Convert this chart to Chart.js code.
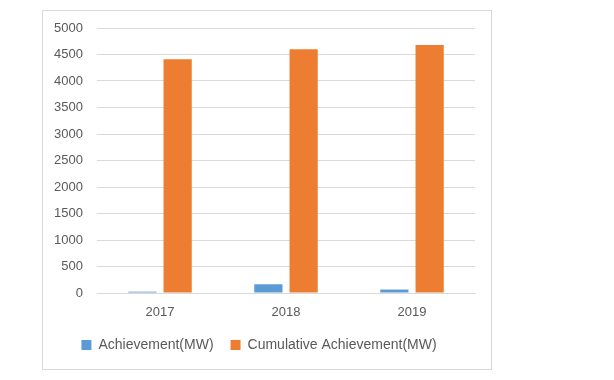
<!DOCTYPE html>
<html>
<head>
<meta charset="utf-8">
<script src="https://cdn.jsdelivr.net/npm/chart.js@4"></script>
<style>
  body { margin: 0; background: #fff; width: 614px; height: 380px; position: relative; }
  #box { position: absolute; left: 42px; top: 10px; width: 448px; height: 358px; border: 1px solid #d9d9d9; }
</style>
</head>
<body>
<div id="box"><canvas id="mychart" width="448" height="358"></canvas></div>
<script>
// data
const years = ['2017', '2018', '2019'];
const achievement = [25, 165, 65];
const cumulative = [4410, 4600, 4680];
const yTicks = [0, 500, 1000, 1500, 2000, 2500, 3000, 3500, 4000, 4500, 5000];

const textColor = '#595959';
const font = { family: 'Liberation Sans', size: 13 };

let ctx = document.getElementById('mychart').getContext('2d');

let barChart = new Chart(ctx, {
    type: 'bar',
    data: {
        labels: years,
        datasets: [{
            label: 'Achievement(MW)',
            data: achievement,
            backgroundColor: '#5B9BD5',
        }, {
            label: 'Cumulative Achievement(MW)',
            data: cumulative,
            backgroundColor: '#ED7D31',
        }]
    },
    options: {
        responsive: false,
        animation: false,
        categoryPercentage: 0.56,
        barPercentage: 0.8,
        layout: { padding: { top: 17, right: 16, bottom: 7, left: 0 } },
        plugins: {
            tooltip: { enabled: false },
            legend: {
                position: 'bottom',
                labels: {
                    boxWidth: 10,
                    boxHeight: 10,
                    padding: 17,
                    color: textColor,
                    font: { family: 'Liberation Sans', size: 14 }
                }
            }
        },
        scales: {
            x: {
                afterFit: function(scale) { scale.height = 28; },
                grid: { display: false, drawTicks: false },
                border: { color: '#d9d9d9' },
                ticks: { color: textColor, font: font, padding: 12 }
            },
            y: {
                min: 0,
                max: 5000,
                afterFit: function(scale) { scale.width = 54; },
                afterBuildTicks: function(scale) {
                    scale.ticks = yTicks.map(v => ({ value: v }));
                },
                // transparent tick marks push the labels left without adding top padding
                grid: { color: '#d9d9d9', drawTicks: true, tickLength: 14, tickColor: 'rgba(0,0,0,0)' },
                border: { display: false },
                ticks: {
                    color: textColor,
                    font: font,
                    padding: 0,
                    callback: function(value) { return String(value); }
                }
            }
        }
    }
});
</script>
</body>
</html>
